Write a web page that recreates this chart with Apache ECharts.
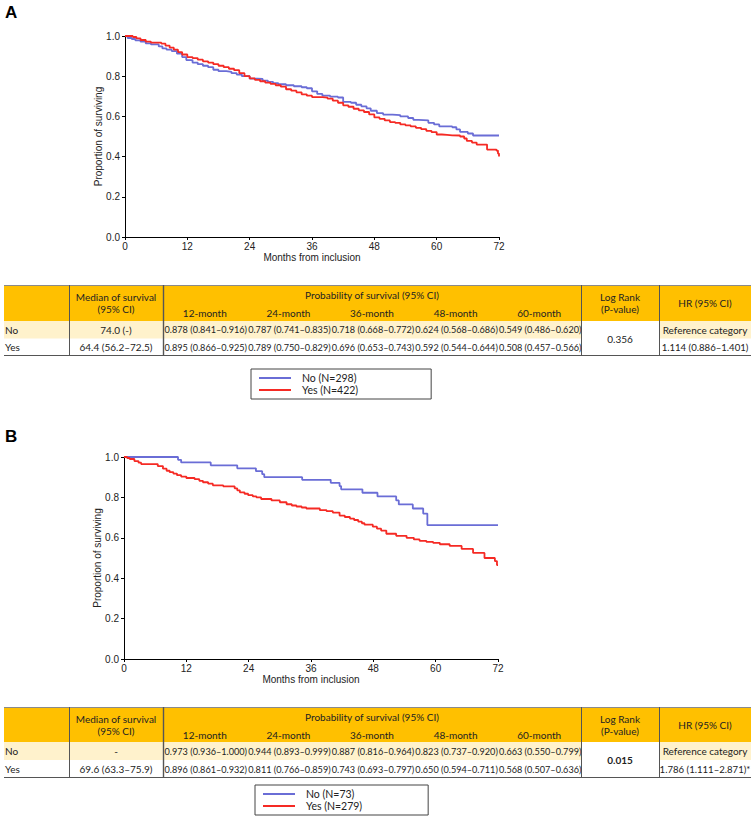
<!DOCTYPE html>
<html>
<head>
<meta charset="utf-8">
<script src="https://cdn.jsdelivr.net/npm/echarts@6/dist/echarts.min.js"></script>
<style>
html,body{margin:0;padding:0;background:#fff;}
#chart{width:753px;height:820px;}
</style>
</head>
<body>
<div id="chart"></div>
<script>
// ---------------- DATA ----------------
const xTicks = [0, 12, 24, 36, 48, 60, 72];
const yTicks = [0.0, 0.2, 0.4, 0.6, 0.8, 1.0];
const groups = ['No', 'Yes'];
const timepoints = ['12-month', '24-month', '36-month', '48-month', '60-month'];

// Panel A
const legendA = ['No (N=298)', 'Yes (N=422)'];
const curveA_No = [[0,1],[0.5,0.99],[1.3,0.985],[2,0.978],[3,0.972],[4,0.963],[5,0.958],[6.5,0.948],[7.2,0.938],[8,0.932],[9,0.925],[10,0.912],[11,0.895],[11.8,0.88],[13,0.868],[14,0.86],[15,0.852],[16,0.845],[17,0.832],[18,0.825],[19.5,0.822],[20.5,0.815],[21.5,0.808],[22.5,0.8],[24,0.788],[25.5,0.786],[26.5,0.778],[27.5,0.772],[28.5,0.766],[29.5,0.76],[31,0.755],[32.5,0.75],[34,0.745],[35,0.74],[36,0.725],[37,0.712],[38,0.703],[39.5,0.698],[41,0.694],[42,0.672],[43.5,0.668],[44.5,0.658],[45.5,0.65],[46.5,0.64],[47.3,0.628],[48.5,0.616],[49.7,0.609],[51.5,0.606],[53,0.6],[54.5,0.592],[55.5,0.583],[56.5,0.58],[58.4,0.568],[59.5,0.56],[60.5,0.55],[63,0.546],[63.8,0.535],[64.5,0.523],[66,0.515],[67,0.505],[72,0.505]];
const curveA_Yes = [[0,1],[1.5,0.995],[2.2,0.988],[3,0.98],[4,0.972],[5,0.967],[7,0.962],[7.8,0.952],[8.6,0.942],[9.4,0.932],[10.2,0.92],[11,0.908],[12,0.895],[13,0.89],[14,0.882],[15,0.874],[16,0.868],[17,0.86],[18,0.852],[19,0.845],[20,0.837],[21,0.83],[22,0.815],[23,0.8],[24,0.789],[25,0.782],[26,0.775],[27,0.768],[28,0.762],[29,0.755],[30,0.748],[31,0.735],[32,0.728],[33,0.72],[34,0.71],[35,0.703],[36,0.696],[38,0.693],[39,0.688],[40,0.678],[41,0.668],[42,0.655],[43,0.648],[44,0.638],[45,0.63],[46,0.622],[47,0.61],[48,0.595],[49,0.588],[50,0.58],[51,0.572],[52,0.568],[53,0.56],[54,0.555],[55,0.55],[56,0.543],[57,0.537],[58,0.528],[59,0.522],[60,0.51],[61,0.508],[62,0.506],[63,0.505],[64.5,0.5],[65.3,0.49],[65.8,0.478],[66.8,0.47],[67.7,0.46],[69.7,0.435],[71.5,0.43],[71.8,0.415],[72,0.4]];
const medianA = ['74.0 (-)', '64.4 (56.2–72.5)'];
const probA_No = ['0.878 (0.841–0.916)', '0.787 (0.741–0.835)', '0.718 (0.668–0.772)', '0.624 (0.568–0.686)', '0.549 (0.486–0.620)'];
const probA_Yes = ['0.895 (0.866–0.925)', '0.789 (0.750–0.829)', '0.696 (0.653–0.743)', '0.592 (0.544–0.644)', '0.508 (0.457–0.566)'];
const logRankA = '0.356';
const hrA = ['Reference category', '1.114 (0.886–1.401)'];

// Panel B
const legendB = ['No (N=73)', 'Yes (N=279)'];
const curveB_No = [[0,1],[10.4,0.986],[11,0.973],[16.7,0.959],[21.8,0.944],[25.4,0.93],[26.6,0.915],[27,0.9],[34.3,0.887],[39.8,0.872],[41.5,0.856],[41.8,0.84],[45.9,0.823],[48.8,0.805],[52.4,0.785],[52.9,0.765],[55.6,0.745],[57.6,0.72],[58.4,0.663],[72,0.663]];
const curveB_Yes = [[0,1],[0.6,0.995],[1.1,0.99],[2,0.98],[2.8,0.972],[3.3,0.965],[6.5,0.955],[7.5,0.942],[8.2,0.932],[8.8,0.925],[9.5,0.918],[10.2,0.91],[11,0.903],[12,0.896],[13.6,0.89],[14.5,0.882],[15.2,0.875],[16.2,0.868],[17.1,0.86],[19.1,0.855],[21.3,0.845],[21.8,0.835],[22.3,0.825],[23.2,0.818],[23.9,0.811],[24.8,0.805],[25.5,0.8],[26.4,0.792],[28.4,0.785],[30,0.776],[31.3,0.766],[32.3,0.76],[33.2,0.755],[34.2,0.75],[35.1,0.745],[37.7,0.737],[39,0.732],[40.2,0.725],[41.5,0.71],[42.5,0.703],[43.5,0.695],[44.3,0.688],[45.1,0.68],[45.8,0.672],[46.3,0.665],[47.9,0.655],[48.7,0.645],[49.5,0.636],[50.5,0.62],[52.4,0.61],[54.4,0.6],[55.8,0.592],[56.9,0.585],[58.2,0.58],[59.5,0.575],[60.8,0.568],[62.7,0.56],[65,0.545],[67.2,0.525],[69.4,0.5],[71.4,0.485],[71.8,0.465],[72,0.465]];
const medianB = ['-', '69.6 (63.3–75.9)'];
const probB_No = ['0.973 (0.936–1.000)', '0.944 (0.893–0.999)', '0.887 (0.816–0.964)', '0.823 (0.737–0.920)', '0.663 (0.550–0.799)'];
const probB_Yes = ['0.896 (0.861–0.932)', '0.811 (0.766–0.859)', '0.743 (0.693–0.797)', '0.650 (0.594–0.711)', '0.568 (0.507–0.636)'];
const logRankB = '0.015';
const hrB = ['Reference category', '1.786 (1.111–2.871)*'];

const headerMedian = ['Median of survival', '(95% CI)'];
const headerProb = 'Probability of survival (95% CI)';
const headerLogRank = ['Log Rank', '(P-value)'];
const headerHR = 'HR (95% CI)';
const panelLabels = ['A', 'B'];

// ---------------- STYLE / LAYOUT ----------------
const BLUE = '#6a6dd6';
const RED = '#f52a24';
const ORANGE = '#ffc000';
const LIGHT = '#fff2cc';
const AX_FONT = 'Liberation Sans, Arial, sans-serif';
const AX_SIZE = 10;
const TB_FONT = 'Lato, sans-serif';
const TB_SIZE = 9.15;
const HD_SIZE = 10;
const TXT = '#222';

const colX = [4, 69, 163, 581, 659, 751];

function tableGraphics(top, hdrBottom, rowMid, bottom, median, probNo, probYes, logRank, lrBold, hr) {
  const g = [];
  const W = colX[5] - colX[0];
  g.push({type: 'rect', shape: {x: colX[0], y: top, width: W, height: hdrBottom - top}, style: {fill: ORANGE}});
  g.push({type: 'rect', shape: {x: colX[0], y: hdrBottom, width: colX[3] - colX[0], height: rowMid - hdrBottom}, style: {fill: LIGHT}});
  g.push({type: 'rect', shape: {x: colX[4], y: hdrBottom, width: colX[5] - colX[4], height: rowMid - hdrBottom}, style: {fill: LIGHT}});
  g.push({type: 'line', shape: {x1: colX[0], y1: top + 0.5, x2: colX[5], y2: top + 0.5}, style: {stroke: '#8a8a8a', lineWidth: 1}});
  g.push({type: 'line', shape: {x1: colX[0], y1: bottom - 0.5, x2: colX[5], y2: bottom - 0.5}, style: {stroke: '#555', lineWidth: 1.2}});
  for (let i = 1; i <= 4; i++) {
    g.push({type: 'line', shape: {x1: colX[i] + 0.5, y1: top, x2: colX[i] + 0.5, y2: bottom}, style: {stroke: '#555', lineWidth: i === 2 ? 1.4 : 1}});
  }
  const txt = (s, x, y, align, bold, size) => ({type: 'text', style: {text: s, x: x, y: y, align: align || 'center', verticalAlign: 'middle', fill: TXT, fontFamily: TB_FONT, fontSize: size || TB_SIZE, fontWeight: bold ? 'bold' : 'normal'}});
  const cMed = (colX[1] + colX[2]) / 2;
  const cLR = (colX[3] + colX[4]) / 2;
  const cHR = (colX[4] + colX[5]) / 2;
  g.push(txt(headerMedian[0], cMed, top + 12, 'center', false, HD_SIZE));
  g.push(txt(headerMedian[1], cMed, top + 24, 'center', false, HD_SIZE));
  g.push(txt(headerProb, (colX[2] + colX[3]) / 2, top + 10, 'center', false, HD_SIZE));
  const sub = (colX[3] - colX[2]) / timepoints.length;
  timepoints.forEach((t, i) => g.push(txt(t, colX[2] + sub * (i + 0.5), top + 27.5, 'center', false, HD_SIZE)));
  g.push(txt(headerLogRank[0], cLR, top + 12, 'center', false, HD_SIZE));
  g.push(txt(headerLogRank[1], cLR, top + 24, 'center', false, HD_SIZE));
  g.push(txt(headerHR, cHR, top + 17.5, 'center', false, HD_SIZE));
  const y1 = (hdrBottom + rowMid) / 2, y2 = (rowMid + bottom) / 2;
  g.push(txt(groups[0], colX[0] + 1, y1, 'left', false, HD_SIZE));
  g.push(txt(groups[1], colX[0] + 1, y2, 'left', false, HD_SIZE));
  g.push(txt(median[0], cMed, y1, 'center', false, HD_SIZE));
  g.push(txt(median[1], cMed, y2, 'center', false, HD_SIZE));
  probNo.forEach((s, i) => g.push(txt(s, colX[2] + 1 + sub * (i + 0.5), y1)));
  probYes.forEach((s, i) => g.push(txt(s, colX[2] + 1 + sub * (i + 0.5), y2)));
  g.push(txt(logRank, cLR, rowMid, 'center', lrBold, HD_SIZE));
  g.push(txt(hr[0], cHR, y1, 'center', false, HD_SIZE));
  g.push(txt(hr[1], cHR, y2, 'center', false, 9.6));
  return g;
}

function makeX(idx) {
  return {
    gridIndex: idx, type: 'value', min: xTicks[0], max: xTicks[xTicks.length - 1], interval: 12,
    axisLine: {show: true, onZero: false, lineStyle: {color: '#000', width: 1}},
    axisTick: {show: true, length: 3, lineStyle: {color: '#000'}},
    axisLabel: {color: '#222', fontSize: AX_SIZE, fontFamily: AX_FONT, margin: 4},
    splitLine: {show: false},
    name: 'Months from inclusion', nameLocation: 'middle', nameGap: 15, nameMoveOverlap: false,
    nameTextStyle: {color: '#222', fontSize: AX_SIZE, fontFamily: AX_FONT}
  };
}
function makeY(idx) {
  return {
    gridIndex: idx, type: 'value', min: yTicks[0], max: yTicks[yTicks.length - 1], interval: 0.2,
    axisLine: {show: true, onZero: false, lineStyle: {color: '#000', width: 1}},
    axisTick: {show: true, length: 3, lineStyle: {color: '#000'}},
    axisLabel: {color: '#222', fontSize: AX_SIZE, fontFamily: AX_FONT, margin: 5, formatter: v => v.toFixed(1)},
    splitLine: {show: false},
    name: 'Proportion of surviving', nameLocation: 'middle', nameGap: 22, nameRotate: 90, nameMoveOverlap: false,
    nameTextStyle: {color: '#222', fontSize: AX_SIZE, fontFamily: AX_FONT}
  };
}
function makeSeries(name, data, color, idx) {
  return {
    name: name, type: 'line', step: 'end', data: data, xAxisIndex: idx, yAxisIndex: idx,
    symbol: 'none', color: color, lineStyle: {color: color, width: 1.8}, silent: true
  };
}
function makeLegend(names, left, top, padRight) {
  return {
    data: names, left: left, top: top, orient: 'vertical', icon: 'rect',
    itemWidth: 32, itemHeight: 2, itemGap: 0,
    padding: [3, padRight, 3, 8],
    borderColor: '#444', borderWidth: 1,
    textStyle: {fontFamily: TB_FONT, fontSize: 10.5, color: '#222', padding: [0, 0, 0, 6], lineHeight: 12},
    selectedMode: false
  };
}

const chart = echarts.init(document.getElementById('chart'), null, {renderer: 'svg'});
const graphics = []
  .concat(tableGraphics(285, 321, 338.5, 356, medianA, probA_No, probA_Yes, logRankA, false, hrA))
  .concat(tableGraphics(707, 742, 760, 778, medianB, probB_No, probB_Yes, logRankB, true, hrB));
graphics.push({type: 'text', style: {text: panelLabels[0], x: 5, y: 4, fill: '#000', fontFamily: AX_FONT, fontSize: 17, fontWeight: 'bold'}});
graphics.push({type: 'text', style: {text: panelLabels[1], x: 5, y: 428, fill: '#000', fontFamily: AX_FONT, fontSize: 17, fontWeight: 'bold'}});

chart.setOption({
  animation: false,
  backgroundColor: '#fff',
  grid: [
    {left: 125, top: 36, width: 374, height: 201},
    {left: 124, top: 457, width: 374, height: 202}
  ],
  xAxis: [makeX(0), makeX(1)],
  yAxis: [makeY(0), makeY(1)],
  legend: [makeLegend(legendA, 251, 369, 73), makeLegend(legendB, 255, 785, 66)],
  series: [
    makeSeries(legendA[0], curveA_No, BLUE, 0),
    makeSeries(legendA[1], curveA_Yes, RED, 0),
    makeSeries(legendB[0], curveB_No, BLUE, 1),
    makeSeries(legendB[1], curveB_Yes, RED, 1)
  ],
  graphic: graphics.map(e => Object.assign({silent: true}, e))
});
</script>
</body>
</html>
